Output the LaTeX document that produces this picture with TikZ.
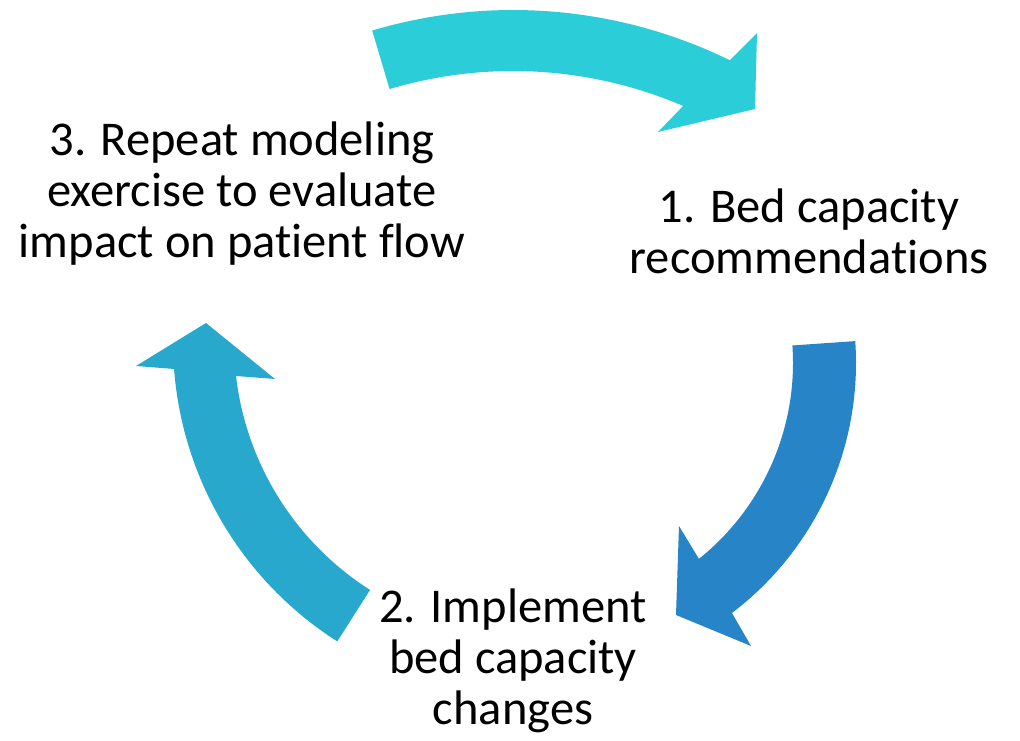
\documentclass[tikz,border=0pt]{standalone}
\usepackage{fontspec}
\setmainfont{Carlito}[Ligatures=NoCommon]
\usetikzlibrary{calc}
\definecolor{arrowtop}{RGB}{42,205,216}
\definecolor{arrowright}{RGB}{39,132,198}
\definecolor{arrowleft}{RGB}{41,168,205}
\begin{document}
\begin{tikzpicture}[
	x=1pt, y=1pt,
	stage/.style={
		align=center,
		inner sep=0pt,
		anchor=base,
		font=\fontsize{48.5}{51}\selectfont
	},
	ArrowC1/.style={% block arrows bent along a circle
		fill=#1,
		draw=none,
	},
]
	\useasboundingbox (0,0) rectangle (1020,741);

	\coordinate (cT) at (513,238);
	\coordinate (cR) at (542,378);
	\coordinate (cL) at (528,399);

	\node [stage] (s1) at (809,467) {1. Bed capacity\\recommendations};
	\node [stage] (s2) at (513,16) {2. Implement\\bed capacity\\changes};
	\node [stage] (s3) at (242,483) {3. Repeat modeling\\exercise to evaluate\\impact on patient flow};

	\fill [ArrowC1=arrowtop] ($(cT)+(106.6:493)$) arc[start angle=106.6, end angle=63.9, radius=493]
		-- (757,708) -- (755,632) -- (658,609)
		-- ($(cT)+(66.8:432)$) arc[start angle=66.8, end angle=106.6, radius=432] -- cycle;
	\fill [ArrowC1=arrowright] ($(cR)+(4:314)$) arc[start angle=4, end angle=-52.77, radius=314]
		-- (751,95) -- (676,126) -- (679,215)
		-- ($(cR)+(-51.3:251)$) arc[start angle=-51.3, end angle=4, radius=251] -- cycle;
	\fill [ArrowC1=arrowleft] ($(cL)+(237.5:355)$) arc[start angle=237.5, end angle=184.36, radius=355]
		-- (136,375) -- (206,418) -- (275,362)
		-- ($(cL)+(186.64:294)$) arc[start angle=186.64, end angle=237.5, radius=294] -- cycle;
\end{tikzpicture}
\end{document}
